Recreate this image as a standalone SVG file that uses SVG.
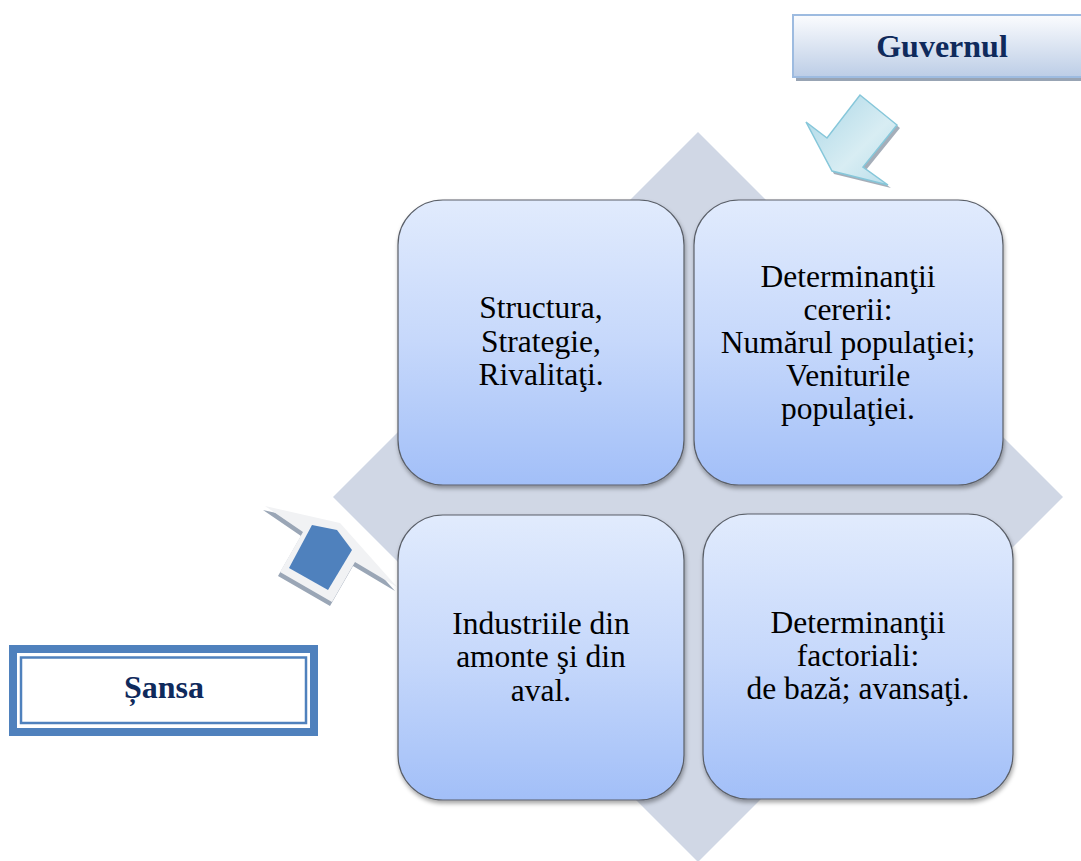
<svg xmlns="http://www.w3.org/2000/svg" width="1081" height="861" viewBox="0 0 1081 861">
<defs>
<linearGradient id="boxGrad" x1="0" y1="0" x2="0" y2="1">
<stop offset="0" stop-color="#e1ebfd"/>
<stop offset="0.5" stop-color="#c6d8fb"/>
<stop offset="1" stop-color="#a2bff8"/>
</linearGradient>
<linearGradient id="govGrad" x1="0" y1="0" x2="0" y2="1">
<stop offset="0" stop-color="#fbfcfe"/>
<stop offset="1" stop-color="#bccde6"/>
</linearGradient>
<linearGradient id="arrowGrad" x1="0" y1="0" x2="1" y2="1">
<stop offset="0" stop-color="#a9d6e6"/>
<stop offset="0.6" stop-color="#d8edf3"/>
<stop offset="1" stop-color="#b6dcea"/>
</linearGradient>
<filter id="shadow" x="-10%" y="-10%" width="125%" height="125%">
<feDropShadow dx="1" dy="3" stdDeviation="2" flood-color="#000" flood-opacity="0.35"/>
</filter>
<style>
.box{fill:url(#boxGrad);stroke:#5a5f68;stroke-width:1.2;filter:url(#shadow)}
.lbl{font-size:31.5px;fill:#000;text-anchor:middle}
.ttl{font-size:32px;font-weight:bold;fill:#0f2a5c;text-anchor:middle}
</style>
</defs>
<rect width="1081" height="861" fill="#fff"/>
<polygon id="diamond" points="698,132 1063,497 698,862 333,497" fill="#d0d7e5"/>

<g id="connectors">
<g id="arrow-guvernul">
<polygon points="863,98 900,128 866,170 891,188 834,174 809,125 830,141" fill="#8e9aa8" opacity="0.8"/>
<polygon points="860,95 897,125 863,167 888,185 832,171 806,122 827,138" fill="url(#arrowGrad)" stroke="#86c7da" stroke-width="1.5"/>
</g>
<g id="arrow-sansa">
<polygon points="263,510 338,527 395,591 353,566 330,606 278,576 301,536" fill="#9aa6b6"/>
<polygon points="265,506 340,523 397,587 355,562 332,602 280,572 303,532" fill="#f1f2f4"/>
<polygon points="312,525 337,530 352,550 328,590 289,568" fill="#4f81bd"/>
</g>
</g>

<g font-family="Liberation Serif, Times New Roman, serif">
<g id="node-guvernul">
<rect x="796" y="19" width="290" height="62" fill="#98a4b4"/>
<rect x="793" y="15" width="292" height="62" fill="url(#govGrad)" stroke="#9dbbe0" stroke-width="2"/>
<text class="ttl" x="942" y="57">Guvernul</text>
</g>

<g id="node-sansa">
<rect x="9" y="645" width="309" height="91" fill="#4f81bd"/>
<rect x="17" y="653" width="293" height="75" fill="#fff"/>
<rect x="21" y="657.5" width="285" height="65.5" fill="#fff" stroke="#4f81bd" stroke-width="2.5"/>
<text class="ttl" x="164" y="698">Șansa</text>
</g>

<g id="node-structura">
<rect class="box" x="398" y="200" width="286" height="285" rx="45" ry="45"/>
<text class="lbl" x="541" y="318"><tspan x="541" y="318">Structura,</tspan><tspan x="541" y="352">Strategie,</tspan><tspan x="541" y="385">Rivalitaţi.</tspan></text>
</g>

<g id="node-cererii">
<rect class="box" x="694" y="200" width="309" height="285" rx="45" ry="45"/>
<text class="lbl" x="848" y="287"><tspan x="848" y="287">Determinanţii</tspan><tspan x="848" y="320">cererii:</tspan><tspan x="848" y="353">Numărul populaţiei;</tspan><tspan x="848" y="386">Veniturile</tspan><tspan x="848" y="419">populaţiei.</tspan></text>
</g>

<g id="node-industriile">
<rect class="box" x="398" y="515" width="286" height="285" rx="45" ry="45"/>
<text class="lbl" x="541" y="634"><tspan x="541" y="634">Industriile din</tspan><tspan x="541" y="667">amonte şi din</tspan><tspan x="541" y="701">aval.</tspan></text>
</g>

<g id="node-factoriali">
<rect class="box" x="703" y="514" width="310" height="285" rx="45" ry="45"/>
<text class="lbl" x="858" y="633"><tspan x="858" y="633">Determinanţii</tspan><tspan x="858" y="666">factoriali:</tspan><tspan x="858" y="699">de bază; avansaţi.</tspan></text>
</g>
</g>
</svg>
